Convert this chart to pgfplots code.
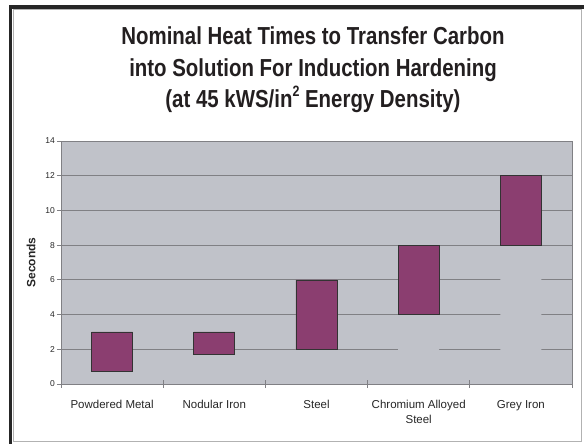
\documentclass[border=0pt]{standalone}
\usepackage{fontspec}
\setmainfont{Liberation Sans}
\newfontfamily\titlefont[FakeStretch=0.83]{Liberation Sans}
\usepackage{pgfplots}
\pgfplotsset{compat=1.18}
\definecolor{plotbg}{RGB}{192,194,201}
\definecolor{gridc}{RGB}{128,128,132}
\definecolor{barc}{RGB}{139,62,112}
\definecolor{titlec}{RGB}{35,31,32}
\begin{document}
\begin{tikzpicture}
\useasboundingbox (-61pt,-60pt) rectangle (523pt,384pt);
\draw[black!30, line width=1pt] (-47.5pt,-57.7pt) rectangle (520.7pt,374pt);
\draw[black!85, line width=3.6pt] (-50.5pt,-60pt) -- (-50.5pt,377.25pt) -- (523pt,377.25pt);
\node[anchor=base, text=titlec, font=\titlefont\bfseries\fontsize{24.6}{30}\selectfont] at (252pt,339pt) {Nominal Heat Times to Transfer Carbon};
\node[anchor=base, text=titlec, font=\titlefont\bfseries\fontsize{24.6}{30}\selectfont] at (252pt,307.5pt) {into Solution For Induction Hardening};
\node[anchor=base, text=titlec, font=\titlefont\bfseries\fontsize{24.6}{30}\selectfont] at (252pt,276pt) {(at 45 kWS/in\raisebox{0.45em}{\fontsize{15}{15}\selectfont 2} Energy Density)};
\begin{axis}[
  scale only axis, width=511pt, height=243pt,
  xmin=-0.5, xmax=4.5, ymin=0, ymax=14,
  ybar stacked, bar width=41pt, reverse stacked plots=false,
  xtick={-0.5,0.5,1.5,2.5,3.5,4.5},
  x tick label as interval,
  xticklabels={Powdered Metal, Nodular Iron, Steel, {Chromium Alloyed\\Steel}, Grey Iron},
  xticklabel style={align=center, font=\fontsize{11.5}{14.5}\selectfont, text=black!85, anchor=north, inner sep=0pt, yshift=-12pt},
  ytick={0,2,...,14},
  yticklabel style={font=\fontsize{8.5}{10}\selectfont, text=black!85, anchor=east, inner sep=0pt, xshift=-2pt},
  /pgf/number format/assume math mode=true,
  tick align=center, major tick length=8pt,
  tick style={gridc, line width=0.8pt},
  xtick pos=bottom, ytick pos=left,
  ymajorgrids, grid style={gridc, line width=0.8pt},
  axis background/.style={fill=plotbg},
  axis line style={gridc, line width=0.9pt},
  ylabel={Seconds},
  ylabel style={font=\bfseries\fontsize{12}{14}\selectfont, text=black!85, at={(axis description cs:-0.0587,0.5)}, anchor=center},
]
\addplot[fill=plotbg, draw=none] coordinates {(0,0.7) (1,1.7) (2,2) (3,4) (4,8)};
\addplot[fill=barc, draw=black!80, line width=0.7pt] coordinates {(0,2.3) (1,1.3) (2,4) (3,4) (4,4)};
\end{axis}
\end{tikzpicture}
\end{document}
